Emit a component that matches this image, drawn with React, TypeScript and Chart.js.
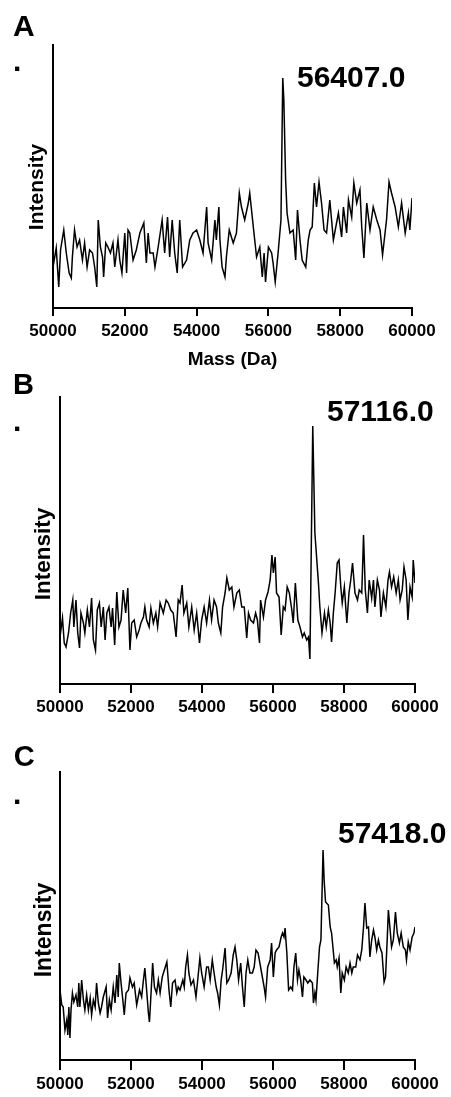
import React, { useEffect, useRef } from "react";
import { Chart, registerables } from "chart.js";

Chart.register(...registerables);

const FONT = "'Liberation Sans', Arial, Helvetica, sans-serif";

// ---------- data ----------
const massTicks = [50000, 52000, 54000, 56000, 58000, 60000];
const panelLetters = ["A", "B", "C"];
const peakLabels = ["56407.0", "57116.0", "57418.0"];
const xTitle = "Mass (Da)";
const yTitle = "Intensity";

const massA = [
  50000, 50090, 50160, 50210, 50300, 50370, 50450, 50510, 50540, 50600,
  50670, 50740, 50820, 50880, 50950, 51020, 51100, 51160, 51220, 51260,
  51320, 51380, 51410, 51470, 51530, 51600, 51670, 51720, 51810, 51860,
  51920, 52000, 52050, 52090, 52140, 52230, 52320, 52420, 52530, 52600,
  52650, 52700, 52790, 52840, 52930, 53040, 53110, 53190, 53250, 53320,
  53390, 53460, 53530, 53610, 53720, 53810, 53900, 54000, 54090, 54180,
  54280, 54320, 54420, 54510, 54550, 54620, 54650, 54710, 54790, 54830,
  54910, 55020, 55110, 55190, 55250, 55340, 55440, 55480, 55580, 55670,
  55760, 55830, 55880, 55920, 56000, 56090, 56130, 56190, 56270, 56350,
  56400, 56430, 56480, 56520, 56600, 56690, 56760, 56810, 56880, 56940,
  57040, 57110, 57160, 57220, 57280, 57340, 57410, 57480, 57550, 57620,
  57710, 57810, 57950, 58040, 58090, 58180, 58230, 58320, 58380, 58460,
  58550, 58600, 58660, 58740, 58830, 58920, 59020, 59110, 59180, 59290,
  59360, 59430, 59530, 59620, 59710, 59810, 59900, 59940, 60000,
];
const intensityA = [
  41, 60, 21, 58, 78, 55, 35, 30, 51, 78,
  61, 68, 48, 65, 41, 58, 55, 41, 21, 88,
  61, 51, 31, 65, 61, 55, 65, 41, 68, 48,
  35, 75, 35, 78, 75, 48, 58, 75, 85, 45,
  75, 55, 55, 41, 61, 88, 55, 91, 51, 88,
  55, 35, 88, 41, 48, 68, 75, 78, 68, 55,
  101, 65, 48, 88, 68, 101, 68, 41, 31, 51,
  78, 65, 75, 115, 101, 88, 105, 115, 81, 51,
  61, 31, 55, 26, 61, 55, 45, 26, 55, 88,
  230, 208, 128, 95, 75, 78, 48, 98, 68, 48,
  41, 68, 78, 81, 125, 101, 126, 105, 78, 75,
  108, 68, 95, 71, 101, 75, 108, 91, 125, 105,
  118, 81, 50, 105, 78, 101, 88, 78, 53, 88,
  126, 115, 101, 81, 105, 75, 95, 78, 110,
];

const massB = [
  50000, 50070, 50120, 50170, 50240, 50300, 50360, 50390, 50450, 50500,
  50550, 50590, 50660, 50700, 50770, 50830, 50890, 50940, 51000, 51050,
  51110, 51160, 51220, 51270, 51320, 51380, 51440, 51480, 51540, 51600,
  51660, 51720, 51780, 51850, 51910, 51970, 52020, 52090, 52160, 52230,
  52280, 52350, 52390, 52440, 52510, 52560, 52630, 52700, 52750, 52820,
  52910, 52990, 53050, 53120, 53190, 53270, 53330, 53380, 53440, 53490,
  53570, 53630, 53710, 53780, 53850, 53930, 53990, 54060, 54130, 54210,
  54270, 54340, 54410, 54460, 54530, 54580, 54650, 54700, 54770, 54840,
  54900, 54980, 55050, 55120, 55190, 55260, 55310, 55370, 55450, 55510,
  55560, 55620, 55650, 55730, 55790, 55860, 55920, 55970, 56010, 56060,
  56100, 56170, 56230, 56290, 56340, 56400, 56460, 56530, 56570, 56630,
  56700, 56760, 56830, 56880, 56950, 57000, 57040, 57120, 57180, 57280,
  57320, 57380, 57450, 57500, 57560, 57610, 57650, 57700, 57750, 57810,
  57860, 57910, 57950, 58010, 58080, 58140, 58190, 58240, 58310, 58380,
  58430, 58500, 58530, 58550, 58600, 58660, 58710, 58780, 58830, 58870,
  58940, 59000, 59040, 59110, 59180, 59240, 59280, 59340, 59400, 59470,
  59530, 59580, 59640, 59690, 59750, 59800, 59860, 59920, 59950, 60000,
];
const intensityB = [
  47, 66, 41, 37, 51, 71, 84, 57, 84, 51,
  36, 71, 61, 51, 74, 57, 86, 44, 34, 74,
  81, 57, 77, 44, 71, 77, 57, 76, 39, 92,
  57, 64, 94, 71, 96, 34, 61, 64, 47, 54,
  61, 67, 77, 64, 57, 76, 61, 71, 57, 81,
  71, 84, 81, 74, 71, 47, 84, 81, 99, 71,
  81, 57, 77, 54, 71, 41, 64, 77, 61, 84,
  64, 84, 77, 61, 51, 77, 91, 106, 94, 97,
  77, 91, 94, 77, 77, 46, 71, 64, 61, 71,
  64, 41, 84, 67, 84, 92, 104, 129, 111, 127,
  91, 87, 49, 77, 74, 97, 91, 74, 61, 101,
  64, 57, 47, 51, 44, 47, 25, 258, 151, 101,
  77, 51, 71, 57, 74, 61, 42, 71, 91, 121,
  124, 97, 81, 97, 61, 91, 104, 121, 91, 84,
  94, 91, 124, 149, 94, 71, 104, 86, 104, 77,
  104, 94, 67, 91, 77, 104, 112, 97, 107, 91,
  104, 84, 94, 117, 104, 64, 97, 87, 124, 101,
];

const massC = [
  50000, 50050, 50090, 50140, 50190, 50220, 50250, 50280, 50310, 50350,
  50390, 50450, 50500, 50530, 50560, 50610, 50660, 50700, 50750, 50800,
  50850, 50890, 50940, 50990, 51030, 51080, 51130, 51170, 51220, 51300,
  51340, 51390, 51440, 51500, 51550, 51600, 51640, 51670, 51720, 51770,
  51810, 51860, 51930, 51970, 52040, 52090, 52160, 52240, 52300, 52350,
  52390, 52440, 52490, 52520, 52550, 52610, 52660, 52720, 52770, 52820,
  52880, 52940, 53010, 53070, 53120, 53170, 53240, 53290, 53330, 53380,
  53460, 53500, 53540, 53590, 53630, 53690, 53760, 53830, 53880, 53940,
  53990, 54060, 54130, 54180, 54230, 54290, 54340, 54400, 54440, 54490,
  54540, 54580, 54650, 54700, 54750, 54820, 54880, 54930, 54980, 55030,
  55090, 55140, 55190, 55240, 55290, 55350, 55420, 55470, 55520, 55580,
  55630, 55680, 55750, 55790, 55850, 55920, 55960, 56010, 56060, 56100,
  56170, 56230, 56270, 56310, 56340, 56390, 56440, 56500, 56550, 56590,
  56640, 56690, 56730, 56780, 56830, 56870, 56930, 56980, 57040, 57110,
  57140, 57180, 57210, 57260, 57310, 57350, 57410, 57440, 57480, 57560,
  57610, 57650, 57730, 57780, 57810, 57860, 57910, 57950, 58010, 58060,
  58120, 58170, 58220, 58260, 58330, 58380, 58450, 58500, 58550, 58590,
  58640, 58690, 58730, 58780, 58830, 58870, 58920, 58970, 59010, 59070,
  59130, 59170, 59220, 59250, 59300, 59340, 59390, 59450, 59500, 59560,
  59610, 59670, 59730, 59760, 59810, 59860, 59920, 59970, 60000,
];
const intensityC = [
  70, 55, 53, 30, 40, 25, 53, 22, 50, 67,
  58, 65, 53, 77, 53, 80, 60, 50, 65, 50,
  62, 45, 60, 53, 77, 57, 47, 53, 63, 73,
  42, 60, 50, 73, 57, 85, 63, 97, 77, 60,
  45, 67, 70, 82, 73, 77, 55, 70, 63, 80,
  92, 70, 47, 38, 57, 97, 73, 67, 80, 67,
  83, 90, 98, 70, 53, 77, 80, 67, 73, 70,
  80, 73, 93, 105, 87, 75, 80, 63, 80, 102,
  87, 73, 93, 93, 80, 100, 87, 73, 67, 55,
  80, 90, 112, 77, 80, 87, 105, 113, 100, 80,
  97, 73, 53, 87, 100, 87, 87, 93, 110, 107,
  97, 87, 73, 63, 93, 100, 117, 83, 107, 110,
  113, 123, 127, 123, 132, 107, 70, 73, 70, 93,
  107, 80, 90, 80, 63, 83, 80, 77, 80, 77,
  57, 67, 60, 87, 113, 120, 210, 180, 158, 155,
  133, 127, 97, 100, 93, 102, 67, 87, 80, 93,
  87, 97, 87, 93, 93, 105, 100, 110, 133, 157,
  132, 133, 103, 120, 130, 123, 110, 120, 113, 107,
  78, 83, 123, 150, 130, 113, 120, 148, 127, 117,
  127, 113, 110, 100, 118, 110, 123, 127, 133,
];

// ---------- layout ----------
type PanelSpec = {
  top: number;
  height: number;
  left: number;
  right: number;
  areaTop: number;
  areaBottom: number;
  yMax: number;
  tickLen: number;
  tickPad: number;
  mass: number[];
  intensity: number[];
};

const panels: PanelSpec[] = [
  { top: 0, height: 360, left: 53, right: 412, areaTop: 45, areaBottom: 308, yMax: 263, tickLen: 8, tickPad: 5, mass: massA, intensity: intensityA },
  { top: 360, height: 360, left: 60, right: 415, areaTop: 37, areaBottom: 324, yMax: 287, tickLen: 9, tickPad: 4, mass: massB, intensity: intensityB },
  { top: 720, height: 377, left: 60, right: 415, areaTop: 52, areaBottom: 340, yMax: 288, tickLen: 10, tickPad: 4, mass: massC, intensity: intensityC },
];

function Panel({ spec }: { spec: PanelSpec }) {
  const ref = useRef<HTMLCanvasElement>(null);
  useEffect(() => {
    if (!ref.current) return;
    const chart = new Chart(ref.current, {
      type: "line",
      data: {
        datasets: [
          {
            data: spec.mass.map((m, i) => ({ x: m, y: spec.intensity[i] })),
            borderColor: "#000",
            borderWidth: 1.5,
            pointRadius: 0,
            tension: 0,
            fill: false,
          },
        ],
      },
      options: {
        animation: false,
        responsive: false,
        devicePixelRatio: 1,
        events: [],
        layout: { padding: { left: 0, right: 451 - spec.right, top: spec.areaTop, bottom: 0 } },
        plugins: { legend: { display: false }, tooltip: { enabled: false }, title: { display: false } },
        scales: {
          x: {
            type: "linear",
            min: 50000,
            max: 60000,
            afterBuildTicks: (s: any) => {
              s.ticks = massTicks.map((v) => ({ value: v }));
            },
            afterFit: (s: any) => {
              s.height = spec.height - spec.areaBottom;
            },
            grid: {
              display: true,
              drawOnChartArea: false,
              drawTicks: true,
              tickLength: spec.tickLen,
              color: "#000",
              lineWidth: 2,
            },
            border: { display: true, color: "#000", width: 2 },
            ticks: {
              color: "#000",
              font: { family: FONT, size: 17, weight: "bold" },
              padding: spec.tickPad,
              maxRotation: 0,
              autoSkip: false,
              callback: (v: any) => String(v),
            },
          },
          y: {
            type: "linear",
            min: 0,
            max: spec.yMax,
            afterFit: (s: any) => {
              s.width = spec.left;
            },
            grid: { display: false },
            border: { display: true, color: "#000", width: 2 },
            ticks: { display: false },
          },
        },
      } as any,
    });
    return () => chart.destroy();
  }, [spec]);
  return (
    <canvas
      ref={ref}
      width={451}
      height={spec.height}
      style={{ position: "absolute", left: 0, top: spec.top, width: 451, height: spec.height, display: "block" }}
    />
  );
}

function Text({ text, left, baseline, size }: { text: string; left: number; baseline: number; size: number }) {
  return (
    <div
      style={{
        position: "absolute",
        left,
        top: baseline - 0.8465 * size,
        fontFamily: FONT,
        fontWeight: "bold",
        fontSize: size,
        lineHeight: `${size}px`,
        whiteSpace: "nowrap",
        color: "#000",
      }}
    >
      {text}
    </div>
  );
}

function CenterText({ text, cx, baseline, size }: { text: string; cx: number; baseline: number; size: number }) {
  return (
    <div
      style={{
        position: "absolute",
        left: cx,
        top: baseline - 0.8465 * size,
        transform: "translateX(-50%)",
        fontFamily: FONT,
        fontWeight: "bold",
        fontSize: size,
        lineHeight: `${size}px`,
        whiteSpace: "nowrap",
        color: "#000",
      }}
    >
      {text}
    </div>
  );
}

function VText({ text, cx, cy, size }: { text: string; cx: number; cy: number; size: number }) {
  return (
    <div
      style={{
        position: "absolute",
        left: cx - 0.09 * size,
        top: cy,
        transform: "translate(-50%, -50%) rotate(-90deg)",
        fontFamily: FONT,
        fontWeight: "bold",
        fontSize: size,
        lineHeight: `${size}px`,
        whiteSpace: "nowrap",
        color: "#000",
      }}
    >
      {text}
    </div>
  );
}

export default function App() {
  return (
    <div style={{ position: "absolute", left: 0, top: 0, width: 451, height: 1097, background: "#fff", overflow: "hidden" }}>
      {panels.map((p, i) => (
        <Panel key={i} spec={p} />
      ))}
      {/* panel letters */}
      <Text text={panelLetters[0]} left={13} baseline={36.7} size={30} />
      <Text text={panelLetters[1]} left={13} baseline={395} size={29} />
      <Text text={panelLetters[2]} left={13.7} baseline={767} size={29} />
      {/* dots */}
      <Text text="." left={13} baseline={71.7} size={30} />
      <Text text="." left={13} baseline={431.7} size={30} />
      <Text text="." left={13} baseline={804} size={30} />
      {/* peak labels */}
      <Text text={peakLabels[0]} left={297} baseline={87.3} size={30} />
      <Text text={peakLabels[1]} left={327} baseline={421.7} size={30} />
      <Text text={peakLabels[2]} left={338} baseline={843.3} size={30} />
      {/* axis titles */}
      <VText text={yTitle} cx={37} cy={187} size={21} />
      <VText text={yTitle} cx={45} cy={553.5} size={22.5} />
      <VText text={yTitle} cx={45.5} cy={929.5} size={23} />
      <CenterText text={xTitle} cx={232.5} baseline={365} size={19} />
    </div>
  );
}
